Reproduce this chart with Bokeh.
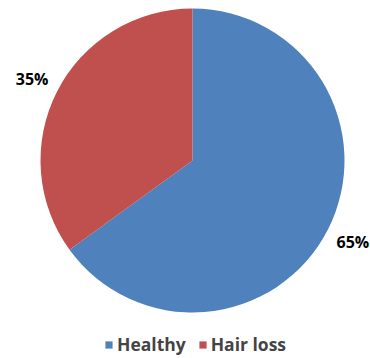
import math
from bokeh.plotting import figure
from bokeh.models import Range1d, ColumnDataSource, Legend, LegendItem
from bokeh.core.properties import value
from bokeh.embed import file_html
from bokeh.resources import INLINE

categories = ["Healthy", "Hair loss"]
percents = [65, 35]
labels = ["65%", "35%"]
colors = ["#4F81BD", "#C0504D"]

W, H = 370, 358
cx, cy, R = 192, 198, 152
label_r = 180

p = figure(width=W, height=H, output_backend="svg", toolbar_location=None,
           x_range=Range1d(0, W), y_range=Range1d(0, H),
           min_border=0, outline_line_color=None)
p.axis.visible = False
p.grid.visible = False
p.background_fill_color = "white"
p.border_fill_color = "white"

total = sum(percents)
starts, ends, lx, ly = [], [], [], []
acc = 0.0
for v in percents:
    a0 = math.pi / 2 - 2 * math.pi * acc / total
    acc += v
    a1 = math.pi / 2 - 2 * math.pi * acc / total
    starts.append(a0)
    ends.append(a1)
    mid = (a0 + a1) / 2
    lx.append(cx + label_r * math.cos(mid))
    ly.append(cy + label_r * math.sin(mid))

src = ColumnDataSource(dict(start=starts, end=ends, color=colors, cat=categories,
                            lx=lx, ly=ly, lab=labels))
p.wedge(x=cx, y=cy, radius=R, start_angle="start", end_angle="end",
        direction="clock", fill_color="color", line_color=None, source=src)

p.text(x="lx", y="ly", text="lab", source=src, text_align="center",
       text_baseline="middle", text_font=value("Open Sans"),
       text_font_style="bold", text_font_size="16px", text_color="black")

items = []
for cat, col in zip(categories, colors):
    r = p.rect(x=[-1000], y=[-1000], width=1, height=1,
               fill_color=col, line_color=None)
    items.append(LegendItem(label=cat, renderers=[r]))

legend = Legend(items=items, orientation="horizontal", location=(104, 2),
                background_fill_alpha=0, border_line_color=None,
                label_text_font="Open Sans", label_text_font_style="bold",
                label_text_font_size="17.5px", glyph_width=9, glyph_height=9,
                label_standoff=4, spacing=12, padding=0, margin=0)
p.add_layout(legend, "center")

open("out.html", "w").write(file_html(p, INLINE))
